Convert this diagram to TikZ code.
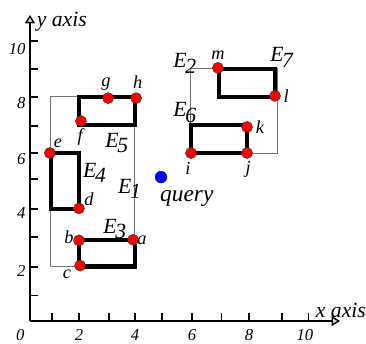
\documentclass[tikz,border=0pt]{standalone}
\usepackage{fontspec}
\setmainfont{Liberation Serif}
\usepackage{tikz}
\usetikzlibrary{arrows.meta, positioning}
\definecolor{ptred}{HTML}{FF0000}
\definecolor{qblue}{HTML}{0000FF}
\newcommand{\esub}[2]{#1\kern-0.8pt\raisebox{-3.2pt}{#2}}

\begin{document}
\begin{tikzpicture}[
    x=16.8pt,
    y=16.8pt,
    font=\itshape,
    axis/.style={
        draw=black,
        line width=0.8pt,
        -{Triangle[length=5pt,width=6pt,fill=gray!35]}
    },
    tick/.style={
        draw=black,
        line width=0.8pt
    },
    numlab/.style={
        font=\fontsize{10}{12}\selectfont\itshape,
        inner sep=0pt
    },
    axislab/.style={
        font=\fontsize{13}{15}\selectfont\itshape,
        inner sep=0pt,
        anchor=west
    },
    mbr/.style={
        draw=black!55,
        line width=0.6pt
    },
    entry/.style={
        draw=black,
        line width=2.6pt,
        line join=miter
    },
    pt/.style={
        circle,
        draw=black!80,
        line width=0.3pt,
        fill=ptred,
        minimum size=6.6pt,
        inner sep=0pt
    },
    qpt/.style={
        circle,
        fill=qblue,
        draw=qblue!60!black,
        line width=0.3pt,
        minimum size=7pt,
        inner sep=0pt
    },
    ptlab/.style={
        font=\fontsize{11}{13}\selectfont\itshape,
        inner sep=0pt
    },
    elab/.style={
        font=\fontsize{13}{15}\selectfont\itshape,
        inner sep=0pt,
        anchor=base west
    }
]

\useasboundingbox (-0.821,-0.786) rectangle (12.25,11.464);

% -----------------------------------------------------
% Axes
% -----------------------------------------------------

\coordinate (orig) at (0.25,0);
\coordinate (xend) at (11.32,0);
\coordinate (yend) at (0.25,10.93);

\draw[axis] (orig) -- (xend);
\draw[axis] (orig) -- (yend);

\foreach \x in {1.04,2,3.07,4,4.96,6.04,7.1,8.07,9.25,10.2}
    \draw[tick] (\x,0) -- ++(0,0.28);
\foreach \y in {0.9,1.93,3,4,5.07,6,6.96,8,9,10}
    \draw[tick] (0.25,\y) -- ++(0.28,0);

\foreach \v/\p in {0/-0.1,2/2,4/4,6/6.04,8/8.07,10/10.07}
    \node[numlab] (xl\v) at (\p,-0.5) {\v};
\foreach \v/\p in {2/1.8,4/3.85,6/5.8,8/7.8,10/9.7}
    \node[numlab, anchor=east] (yl\v) at (0.1,\p) {\v};

\node[axislab] (xlab) at (10.45,0.36) {x axis};
\node[axislab] (ylab) at (0.48,10.68) {y axis};

% -----------------------------------------------------
% Bounding rectangles E1, E2
% -----------------------------------------------------

\draw[mbr] (1,1.95) rectangle (4,8);
\draw[mbr] (6,5.97) rectangle (9.1,9);

% -----------------------------------------------------
% Entries E3 -- E7
% -----------------------------------------------------

\draw[entry] (2,1.95) rectangle (4,2.9);   % E3
\draw[entry] (1,4) rectangle (2,6);        % E4
\draw[entry] (2,7) rectangle (4,8);        % E5
\draw[entry] (6,6) rectangle (8,7);        % E6
\draw[entry] (7,8) rectangle (9,9);        % E7

\node[elab] (e1) at (3.39,4.57) {\esub{E}{1}};
\node[elab] (e2) at (5.36,9.04) {\esub{E}{2}};
\node[elab] (e3) at (2.86,3.14) {\esub{E}{3}};
\node[elab] (e4) at (2.14,5.14) {\esub{E}{4}};
\node[elab] (e5) at (2.93,6.21) {\esub{E}{5}};
\node[elab] (e6) at (5.36,7.29) {\esub{E}{6}};
\node[elab] (e7) at (8.82,9.25) {\esub{E}{7}};

% -----------------------------------------------------
% Points
% -----------------------------------------------------

\node[pt] (a) at (3.93,2.9) {};
\node[pt] (b) at (2,2.88) {};
\node[pt] (c) at (2.04,1.98) {};
\node[pt] (d) at (2,4.02) {};
\node[pt] (e) at (0.96,6) {};
\node[pt] (f) at (2.07,7.14) {};
\node[pt] (g) at (3.04,7.96) {};
\node[pt] (h) at (4.04,7.96) {};
\node[pt] (i) at (6,6) {};
\node[pt] (j) at (8,6) {};
\node[pt] (k) at (8,6.93) {};
\node[pt] (l) at (9,8.04) {};
\node[pt] (m) at (6.96,9.04) {};

\node[ptlab] (a-lab) at (4.25,2.9) {a};
\node[ptlab] (b-lab) at (1.64,3.0) {b};
\node[ptlab] (c-lab) at (1.57,1.68) {c};
\node[ptlab] (d-lab) at (2.36,4.36) {d};
\node[ptlab] (e-lab) at (1.25,6.36) {e};
\node[ptlab] (f-lab) at (2.04,6.57) {f};
\node[ptlab] (g-lab) at (2.96,8.46) {g};
\node[ptlab] (h-lab) at (4.1,8.54) {h};
\node[ptlab] (i-lab) at (5.89,5.46) {i};
\node[ptlab] (j-lab) at (8.04,5.4) {j};
\node[ptlab] (k-lab) at (8.46,6.93) {k};
\node[ptlab] (l-lab) at (9.4,8.04) {l};
\node[ptlab] (m-lab) at (6.96,9.5) {m};

% query point
\node[qpt] (query) at (4.93,5.14) {};
\node[font=\fontsize{14}{16}\selectfont\itshape, inner sep=0pt, anchor=base west]
    (query-lab) at (4.89,4.25) {query};

\end{tikzpicture}
\end{document}
